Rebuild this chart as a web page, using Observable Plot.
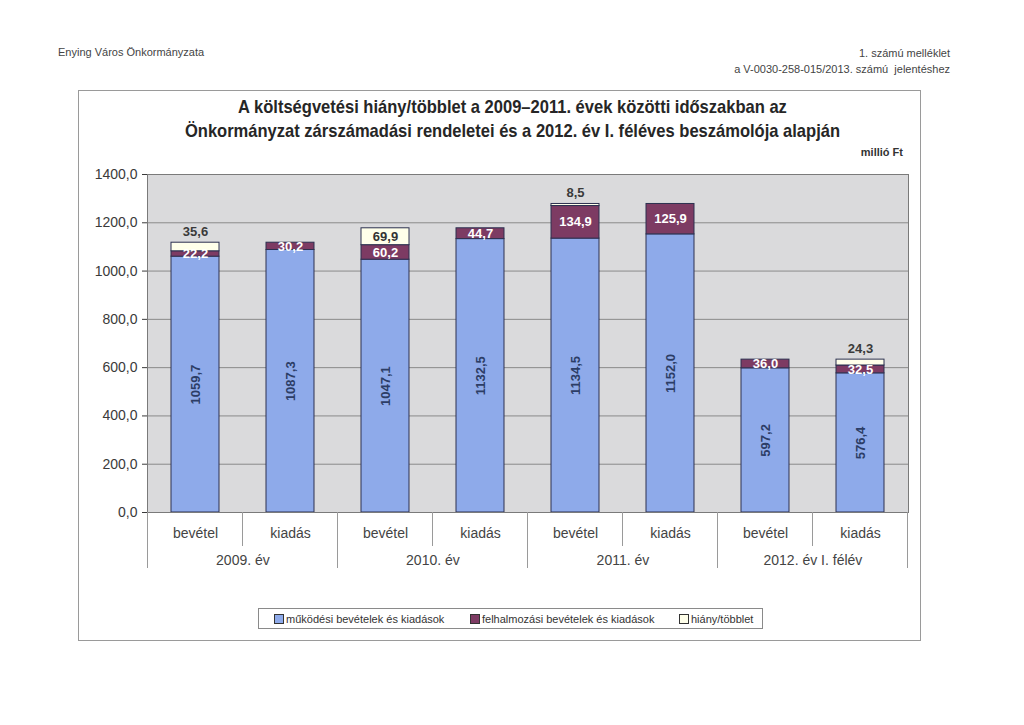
<!DOCTYPE html>
<html><head><meta charset="utf-8">
<script src="https://cdn.jsdelivr.net/npm/d3@7"></script>
<script src="https://cdn.jsdelivr.net/npm/@observablehq/plot@0.6"></script>
<style>
body{margin:0;background:#fff;font-family:"Liberation Sans",Arial,sans-serif;}
#page{position:relative;width:1024px;height:725px;overflow:hidden;background:#fff;}
.abs{position:absolute;white-space:nowrap;}
#box{position:absolute;left:78px;top:90px;width:841px;height:549px;border:1px solid #9a9a9a;}
#title{left:91px;width:843px;top:95px;text-align:center;font-weight:bold;font-size:19px;line-height:24px;color:#262626;transform:scaleX(0.87);transform-origin:50% 50%;}
#legend{position:absolute;left:258px;top:608px;width:503px;height:19px;border:1px solid #8a8a8a;font-size:11px;color:#333;display:flex;align-items:center;}
.li{display:flex;align-items:center;position:absolute;top:4px;}
.sw{display:inline-block;width:8px;height:8px;border:1px solid #333;margin-right:2px;}
#chart{position:absolute;left:0;top:0;}
</style></head><body>
<div id="page">
  <div class="abs" style="left:58px;top:46px;font-size:11px;color:#444;">Enying Város Önkormányzata</div>
  <div class="abs" style="right:74px;top:45px;font-size:11px;color:#444;text-align:right;line-height:16px;">1. számú melléklet<br>a V-0030-258-015/2013. számú&nbsp; jelentéshez</div>
  <div id="box"></div>
  <div id="title" class="abs">A költségvetési hiány/többlet a 2009–2011. évek közötti időszakban az<br>Önkormányzat zárszámadási rendeletei és a 2012. év I. féléves beszámolója alapján</div>
  <div class="abs" style="right:121px;top:146px;font-size:11px;font-weight:bold;color:#333;">millió Ft</div>
  <div id="chart"></div>
  <div id="legend"></div>
</div>
<script>
const groups = ["2009. év", "2010. év", "2011. év", "2012. év I. félév"];
const sides = ["bevétel", "kiadás"];
const series = ["működési bevételek és kiadások", "felhalmozási bevételek és kiadások", "hiány/többlet"];
const seriesColors = ["#8eaaea", "#7d3b63", "#ffffea"];
const mukodesi = [1059.7, 1087.3, 1047.1, 1132.5, 1134.5, 1152.0, 597.2, 576.4];
const felhalmozasi = [22.2, 30.2, 60.2, 44.7, 134.9, 125.9, 36.0, 32.5];
const hiany = [35.6, 0, 69.9, 0, 8.5, 0, 0, 24.3];
const yTicks = [0, 200, 400, 600, 800, 1000, 1200, 1400];

const fmt = v => v.toFixed(1).replace(".", ",");
const keys = [];
groups.forEach(g => sides.forEach(s => keys.push(g + "|" + s)));
const rows = [];
keys.forEach((k, i) => {
  [mukodesi, felhalmozasi, hiany].forEach((arr, j) => {
    rows.push({key: k, series: series[j], value: arr[i]});
  });
});

const W = 1024, ML = 147, MR = 116, MT = 174, H = 600, MB = 88;
const step = (W - ML - MR) / keys.length;

const plot = Plot.plot({
  width: W, height: H,
  marginLeft: ML, marginRight: MR, marginTop: MT, marginBottom: MB,
  style: {background: "transparent", fontFamily: "'Liberation Sans', Arial, sans-serif", fontSize: "14px", color: "#3a3a3a", overflow: "visible"},
  x: {domain: keys, paddingInner: 0.5, paddingOuter: 0.25, axis: null},
  y: {domain: [0, 1400], ticks: yTicks, tickFormat: fmt, tickSize: 5, tickPadding: 5, label: null},
  color: {domain: series, range: seriesColors},
  marks: [
    Plot.frame({fill: "#dadadc"}),
    Plot.ruleY(yTicks, {stroke: "#8a8a8a", strokeWidth: 1}),
    Plot.barY(rows, {x: "key", y: "value", fill: "series", stroke: "#2c3050", strokeWidth: 1, filter: d => d.value > 0}),
    Plot.text(rows, Plot.stackY({x: "key", y: "value", text: d => d.series === series[0] ? fmt(d.value) : "", rotate: -90, fill: "#2c3d66", fontWeight: "bold", fontSize: 13})),
    Plot.text(rows, Plot.stackY({x: "key", y: "value", text: d => d.series === series[1] ? fmt(d.value) : "", fill: "#ffffff", fontWeight: "bold", fontSize: 13})),
    Plot.text(rows, Plot.stackY({x: "key", y: "value", text: d => d.series === series[2] && d.value >= 50 ? fmt(d.value) : "", fill: "#333333", fontWeight: "bold", fontSize: 13})),
    Plot.text(rows, Plot.stackY2({x: "key", y: "value", text: d => d.series === series[2] && d.value > 0 && d.value < 50 ? fmt(d.value) : "", dy: -11, fill: "#3a3a3a", fontWeight: "bold", fontSize: 13})),
    Plot.frame({stroke: "#7a7a7a"}),
    Plot.text(keys, {x: d => d, y: 0, text: d => d.split("|")[1], dy: 21, fontSize: 14, fill: "#444"}),
    Plot.text(groups, {x: g => g + "|" + sides[1], y: 0, text: d => d, dx: -step / 2, dy: 48, fontSize: 14, fill: "#444"})
  ]
});
document.getElementById("chart").appendChild(plot);

// category separators under the plot, placed with the plot's own scales
const sx = plot.scale("x"), sy = plot.scale("y");
const y0 = sy.apply(0);
const bw = sx.bandwidth;
const st = sx.step || bw * 2;
const svg = d3.select(plot);
const g = svg.append("g").attr("stroke", "#9a9a9a").attr("stroke-width", 1);
keys.forEach((k, i) => {
  const xl = sx.apply(k) - (st - bw) / 2;
  g.append("line").attr("x1", xl).attr("x2", xl).attr("y1", y0).attr("y2", y0 + (i % 2 === 0 ? 56 : 34));
});
const xr = sx.apply(keys[keys.length - 1]) + bw + (st - bw) / 2;
g.append("line").attr("x1", xr).attr("x2", xr).attr("y1", y0).attr("y2", y0 + 56);

// legend
const leg = document.getElementById("legend");
const legX = [15, 211, 420];
series.forEach((s, i) => {
  const it = document.createElement("div");
  it.className = "li";
  it.style.left = legX[i] + "px";
  it.innerHTML = `<span class="sw" style="background:${seriesColors[i]}"></span>${s}`;
  leg.appendChild(it);
});
</script>
</body></html>
